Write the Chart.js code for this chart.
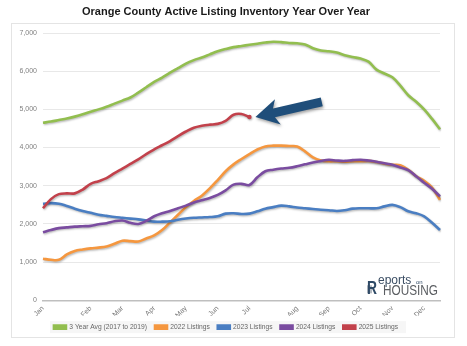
<!DOCTYPE html>
<html>
<head>
<meta charset="utf-8">
<script src="https://cdn.jsdelivr.net/npm/chart.js@4/dist/chart.umd.min.js"></script>
<style>
  html, body { margin: 0; padding: 0; background: #fff; }
  #wrap { position: relative; width: 467px; height: 346px; }
</style>
</head>
<body>
<div id="wrap"><canvas id="c" width="467" height="346"></canvas></div>
<script>
const chartTitle = 'Orange County Active Listing Inventory Year Over Year';

// weekly categories (month label on the first week shown for each month)
const categories = ['Jan','','','','','','Feb','','','','Mar','','','','Apr','','','','May','','','','Jun','','','','Jul','','','','','','Aug','','','','Sep','','','','Oct','','','','Nov','','','','Dec','',''];

const seriesNames = ['3 Year Avg (2017 to 2019)', '2022 Listings', '2023 Listings', '2024 Listings', '2025 Listings'];

const avg2017to2019 = [4650,4680,4720,4760,4810,4870,4940,5000,5070,5150,5230,5310,5440,5580,5720,5830,5960,6080,6200,6290,6360,6440,6520,6580,6630,6660,6690,6720,6750,6770,6760,6740,6730,6700,6600,6540,6520,6490,6420,6370,6330,6250,6040,5940,5840,5620,5370,5200,5000,4750,4480];

const listings2022 = [1090,1060,1060,1200,1290,1330,1360,1380,1410,1480,1560,1550,1540,1620,1700,1840,2040,2240,2440,2600,2740,2930,3150,3380,3560,3700,3830,3950,4030,4050,4050,4040,4030,3900,3740,3660,3640,3640,3630,3640,3640,3650,3620,3580,3550,3540,3420,3250,3130,2950,2630];

const listings2023 = [2525,2545,2530,2470,2400,2340,2290,2240,2210,2180,2160,2140,2120,2090,2060,2060,2070,2110,2140,2160,2170,2180,2200,2270,2280,2260,2270,2330,2400,2440,2480,2460,2430,2410,2390,2370,2360,2340,2360,2400,2410,2410,2410,2460,2500,2440,2330,2280,2200,2030,1840];

const listings2024 = [1780,1840,1890,1910,1930,1940,1950,1990,2020,2070,2090,2030,2000,2080,2200,2280,2340,2410,2480,2560,2620,2680,2760,2880,3030,3050,3020,3220,3380,3420,3450,3470,3510,3560,3610,3650,3680,3660,3650,3670,3680,3660,3630,3590,3550,3480,3410,3250,3080,2920,2720];

const listings2025 = [2410,2650,2780,2800,2800,2900,3050,3120,3200,3330,3450,3570,3690,3830,3950,4060,4170,4300,4420,4520,4570,4600,4620,4700,4860,4880,4800];

const yTicks = [0,1000,2000,3000,4000,5000,6000,7000];

const colors = ['#92BE4F', '#F5973F', '#4A7EC2', '#7A4CA0', '#C2414B'];

const seriesData = [avg2017to2019, listings2022, listings2023, listings2024, listings2025];

const datasets = seriesData.map((d, i) => ({
  label: seriesNames[i],
  data: d,
  borderColor: colors[i],
  backgroundColor: colors[i],
  borderWidth: 2.6,
  tension: 0.35,
  fill: false,
  pointRadius: d.map((v, j) => (i === 4 && j === d.length - 1) ? 2.2 : 0),
  pointBackgroundColor: colors[i],
  pointBorderWidth: 0,
  order: 5 - i
}));

const framePlugin = {
  id: 'frame',
  beforeDraw(chart) {
    const ctx = chart.ctx;
    ctx.save();
    ctx.fillStyle = '#ffffff';
    ctx.fillRect(0, 0, chart.width, chart.height);
    ctx.strokeStyle = '#e4e4e4';
    ctx.lineWidth = 1;
    ctx.strokeRect(11.5, 23.5, 443, 314);
    // legend background
    const lg = chart.legend;
    if (lg && lg.legendHitBoxes && lg.legendHitBoxes.length) {
      const hb = lg.legendHitBoxes;
      const x0 = hb[0].left - 4;
      const last = hb[hb.length - 1];
      const x1 = last.left + last.width + 8;
      const cy = hb[0].top + hb[0].height / 2;
      ctx.fillStyle = '#f6f6f6';
      ctx.fillRect(x0, cy - 6, x1 - x0, 12);
    }
    ctx.restore();
  },
  beforeDatasetsDraw(chart) {
    const ctx = chart.ctx;
    ctx.save();
    ctx.shadowColor = 'rgba(0,0,0,0.28)';
    ctx.shadowBlur = 2;
    ctx.shadowOffsetX = 0.8;
    ctx.shadowOffsetY = 1.2;
  },
  afterDatasetsDraw(chart) {
    chart.ctx.restore();
  },
  afterDraw(chart) {
    const ctx = chart.ctx;
    const area = chart.chartArea;
    // arrow pointing to latest 2025 value
    const meta = chart.getDatasetMeta(4);
    const lastPt = meta.data[meta.data.length - 1];
    const tipX = lastPt.x + 6, tipY = lastPt.y;
    const ang = Math.atan2(-15, 66);
    ctx.save();
    ctx.translate(tipX, tipY);
    ctx.rotate(ang);
    ctx.shadowColor = 'rgba(0,0,0,0.35)';
    ctx.shadowBlur = 3;
    ctx.shadowOffsetX = 1;
    ctx.shadowOffsetY = 2;
    ctx.fillStyle = '#1F4E7A';
    ctx.beginPath();
    ctx.moveTo(0, 0);
    ctx.lineTo(23, -13);
    ctx.lineTo(19, -4.5);
    ctx.lineTo(68, -4.5);
    ctx.lineTo(68, 4.5);
    ctx.lineTo(19, 4.5);
    ctx.lineTo(23, 13);
    ctx.closePath();
    ctx.fill();
    ctx.restore();

    // Reports on HOUSING logo (text)
    ctx.save();
    const rx = area.right - 2, by = area.bottom - 5;
    ctx.textBaseline = 'alphabetic';
    ctx.fillStyle = '#b4bac1';
    ctx.fillRect(rx - 71, by - 10, 5, 8);
    ctx.fillStyle = '#2f4a66';
    ctx.font = 'bold 19px "Liberation Sans"';
    ctx.textAlign = 'left';
    ctx.fillText('R', rx - 71, by - 1, 10);
    ctx.font = '12px "Liberation Sans"';
    ctx.fillStyle = '#3a4d63';
    ctx.fillText('eports', rx - 60, by - 11, 36);
    ctx.font = '6px "Liberation Sans"';
    ctx.fillStyle = '#2f4a66';
    ctx.fillText('on', rx - 22, by - 11);
    ctx.font = '14px "Liberation Sans"';
    ctx.fillStyle = '#5a5d61';
    ctx.textAlign = 'right';
    ctx.fillText('HOUSING', rx, by, 55);
    ctx.restore();
  }
};

new Chart(document.getElementById('c'), {
  type: 'line',
  data: { labels: categories, datasets: datasets },
  options: {
    responsive: false,
    animation: false,
    devicePixelRatio: 1,
    layout: { padding: { left: 12, right: 27, top: 0, bottom: 5.5 } },
    plugins: {
      title: {
        display: true,
        text: chartTitle,
        color: '#1a1a1a',
        font: { family: '"Liberation Sans", Arial, sans-serif', size: 11, weight: 'bold' },
        padding: { top: 5, bottom: 14.8 }
      },
      legend: {
        position: 'bottom',
        labels: {
          boxWidth: 12,
          boxHeight: 3,
          padding: 8,
          color: '#666',
          font: { family: '"Liberation Sans", Arial, sans-serif', size: 6.7 },
          sort: (a, b) => a.datasetIndex - b.datasetIndex
        }
      },
      tooltip: { enabled: false }
    },
    scales: {
      x: {
        type: 'category',
        grid: { display: false, drawTicks: false },
        border: { display: true, color: '#bfbfbf', width: 1.5 },
        ticks: {
          autoSkip: false,
          maxRotation: 45,
          minRotation: 45,
          padding: 4,
          color: '#777',
          font: { family: '"Liberation Sans", Arial, sans-serif', size: 7 }
        },
        afterFit(scale) { scale.height = 15.5; }
      },
      y: {
        min: 0,
        max: 7000,
        afterBuildTicks(scale) { scale.ticks = yTicks.map(v => ({ value: v })); },
        grid: { color: '#e8e8e8', drawTicks: false, lineWidth: 1 },
        border: { display: false },
        ticks: {
          padding: 6,
          color: '#808080',
          font: { family: '"Liberation Sans", Arial, sans-serif', size: 7 },
          callback: v => v.toLocaleString('en-US')
        },
        afterFit(scale) { scale.width = 31; }
      }
    }
  },
  plugins: [framePlugin]
});
</script>
</body>
</html>
